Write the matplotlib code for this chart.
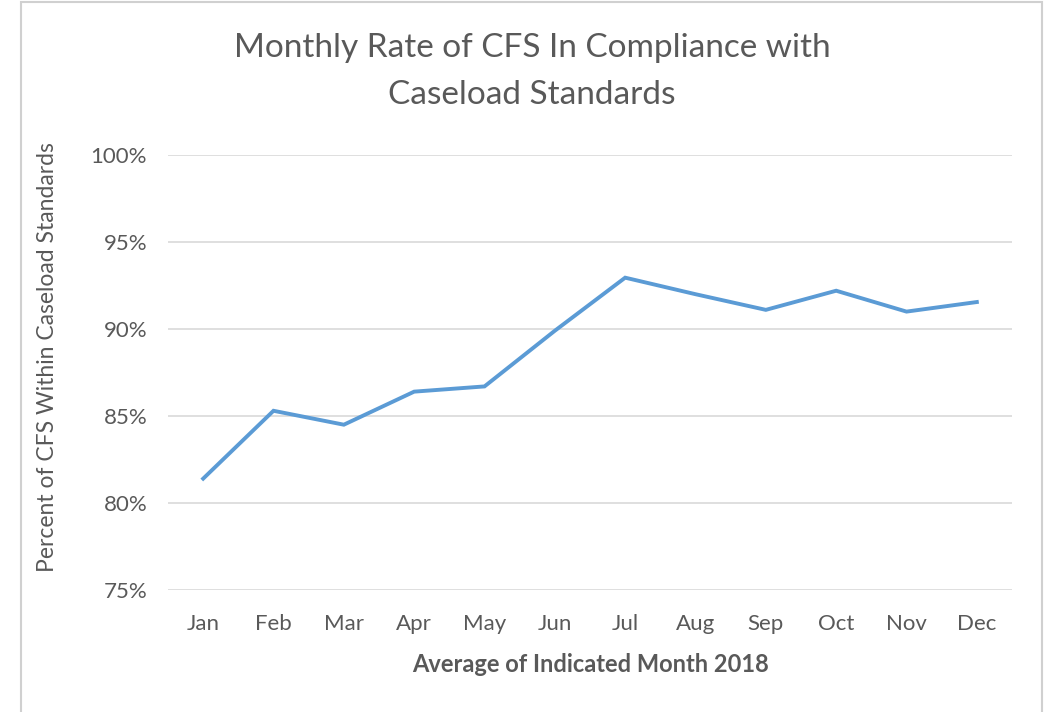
import matplotlib
matplotlib.use("Agg")
import matplotlib.pyplot as plt
from matplotlib.patches import Rectangle
from matplotlib.ticker import FuncFormatter

months = ["Jan", "Feb", "Mar", "Apr", "May", "Jun",
          "Jul", "Aug", "Sep", "Oct", "Nov", "Dec"]
rate = [81.4, 85.3, 84.5, 86.4, 86.7, 89.9,
        92.95, 92.0, 91.1, 92.2, 91.0, 91.55]
yticks = [75, 80, 85, 90, 95, 100]

title_lines = ["Monthly Rate of CFS In Compliance with", "Caseload Standards"]
xlabel = "Average of Indicated Month 2018"
ylabel = "Percent of CFS Within Caseload Standards"

plt.rcParams["font.family"] = ["Lato", "DejaVu Sans"]
txt = "#595959"

W, H = 1051, 712
fig = plt.figure(figsize=(W / 100, H / 100), dpi=100)
fig.patch.set_facecolor("white")

# chart border
fig.add_artist(Rectangle((21 / W, -0.01), (1042 - 21) / W, 1 - 2 / H + 0.01,
                         transform=fig.transFigure, fill=False,
                         edgecolor="#d0d0d0", linewidth=1.5))

ax = fig.add_axes([168 / W, 1 - 590 / H, (1012 - 168) / W, (590 - 155) / H])
ax.plot(range(len(months)), rate, color="#5B9BD5", linewidth=2.8,
        solid_joinstyle="miter", clip_on=False)

ax.set_xlim(-0.5, len(months) - 0.5)
ax.set_ylim(75, 100)
ax.set_yticks(yticks)
ax.yaxis.set_major_formatter(FuncFormatter(lambda v, p: f"{v:.0f}%"))
ax.set_xticks(range(len(months)))
ax.set_xticklabels(months)
ax.grid(axis="y", color="#d9d9d9", linewidth=1.2)
ax.set_axisbelow(True)
for s in ax.spines.values():
    s.set_visible(False)
ax.tick_params(length=0, labelsize=16, colors=txt)
ax.tick_params(axis="x", pad=17)
ax.tick_params(axis="y", pad=15)

fig.text(532 / W, 1 - 48 / H, title_lines[0], ha="center", va="center",
         fontsize=24, color=txt)
fig.text(532 / W, 1 - 95 / H, title_lines[1], ha="center", va="center",
         fontsize=24, color=txt)
fig.text(590 / W, 1 - 665 / H, xlabel, ha="center", va="center",
         fontsize=17, fontweight="bold", color=txt)
fig.text(48 / W, 1 - 357 / H, ylabel, ha="center", va="center",
         rotation=90, fontsize=16.5, color=txt)

fig.savefig("out.png", dpi=100)
